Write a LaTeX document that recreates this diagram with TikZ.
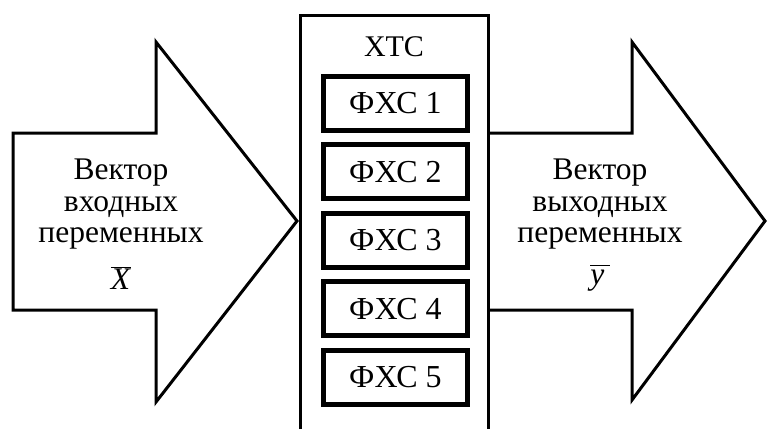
\documentclass[tikz,border=0pt]{standalone}
\usepackage{fontspec}
\setmainfont{Liberation Serif}
\begin{document}
\begin{tikzpicture}[x=1pt,y=-1pt,
  outline/.style={draw=black,line width=3pt,line join=miter},
  fxs/.style={draw=black,line width=5pt,minimum width=144pt,minimum height=54pt,
    inner sep=0pt,font=\fontsize{32}{38}\selectfont},
  vectext/.style={align=center,inner sep=0pt,anchor=base,
    font=\fontsize{31.5}{31.5}\selectfont}]
\useasboundingbox (0,0) rectangle (769,429);

% input vector arrow
\draw[outline] (13,133) -- (156,133) -- (156,42) -- (297,221)
  -- (156,402) -- (156,310) -- (13,310) -- cycle;

% output vector arrow
\draw[outline] (488,133) -- (632,133) -- (632,42) -- (765,221)
  -- (632,400) -- (632,310) -- (488,310);

% system frame, open at the bottom
\draw[outline] (300,429) -- (300,15) -- (488,15) -- (488,429);

\node[inner sep=0pt,font=\fontsize{30}{36}\selectfont] (xtc) at (394,47) {ХТС};

\foreach \i in {1,...,5}{
  \node[fxs] (f\i) at (395.5,{103+68.6*(\i-1)}) {ФХС \i};
}

% the base anchor sits on the last line
\node[vectext] (in) at (121,289)
  {Вектор\\входных\\переменных\\[15pt]$\overline{\mbox{\textit{X}}}$};
\node[vectext] (out) at (600,284)
  {Вектор\\выходных\\переменных\\[10pt]$\overline{\vphantom{X}\mbox{\textit{y\,}}}$};
\end{tikzpicture}
\end{document}
